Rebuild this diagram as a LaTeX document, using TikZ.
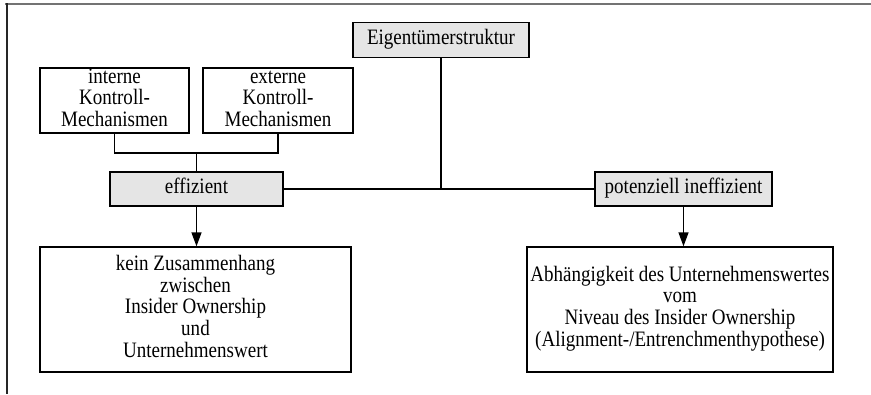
\documentclass[tikz,border=0pt]{standalone}
\usepackage{fontspec}
\usepackage{graphicx}
\setmainfont{Liberation Serif}
\usetikzlibrary{arrows.meta}
\newcommand\sqtext[1]{\scalebox{0.865}[1]{\begin{tabular}{@{}c@{}}#1\end{tabular}}}
\begin{document}
\begin{tikzpicture}[x=1pt,y=-1pt,
  box/.style={draw=black, line width=1.4pt, align=center, inner sep=0pt,
    font=\fontsize{22}{21.7}\selectfont},
  grey/.style={box, fill=black!10},
  conn/.style={draw=black, line width=1.4pt},
  arr/.style={conn, -{Triangle[width=10pt,length=14pt]}}]
\useasboundingbox (0,0) rectangle (871,394);
\draw[line width=2pt, black!55] (5,4) -- (871,4);
\draw[line width=2pt, black!85] (6.5,3) -- (6.5,394);

\node[grey, minimum width=176pt, minimum height=35pt] (eig) at (441,40) {\sqtext{Eigentümerstruktur}};
\node[box, minimum width=149pt, minimum height=63pt] (int) at (114.5,100.5) {\sqtext{interne\\Kontroll-\\Mechanismen}};
\node[box, minimum width=150pt, minimum height=63pt] (ext) at (278,100.5) {\sqtext{externe\\Kontroll-\\Mechanismen}};
\node[grey, minimum width=173pt, minimum height=34pt] (eff) at (196.5,189) {\sqtext{effizient}};
\node[grey, minimum width=177pt, minimum height=34pt] (pot) at (683.5,189) {\sqtext{potenziell ineffizient}};
\node[box, minimum width=311pt, minimum height=125pt] (kein) at (195.5,309.5) {\sqtext{kein Zusammenhang\\zwischen\\Insider Ownership\\und\\Unternehmenswert}};
\node[box, minimum width=306pt, minimum height=125pt] (abh) at (680,309.5) {\sqtext{Abhängigkeit des Unternehmenswertes\\vom\\Niveau des Insider Ownership\\(Alignment-/Entrenchmenthypothese)}};

\coordinate (j) at (196.5,153);
\draw[conn] (int.south) |- (j) -| (ext.south);
\draw[conn] (j) -- (eff.north);
\draw[conn] (eff.east) -- (pot.west);
\draw[conn] (eig.south) -- (eig.south |- eff.east);
\draw[arr] (eff.south) -- (eff.south |- kein.north);
\draw[arr] (pot.south) -- (pot.south |- abh.north);
\end{tikzpicture}
\end{document}
